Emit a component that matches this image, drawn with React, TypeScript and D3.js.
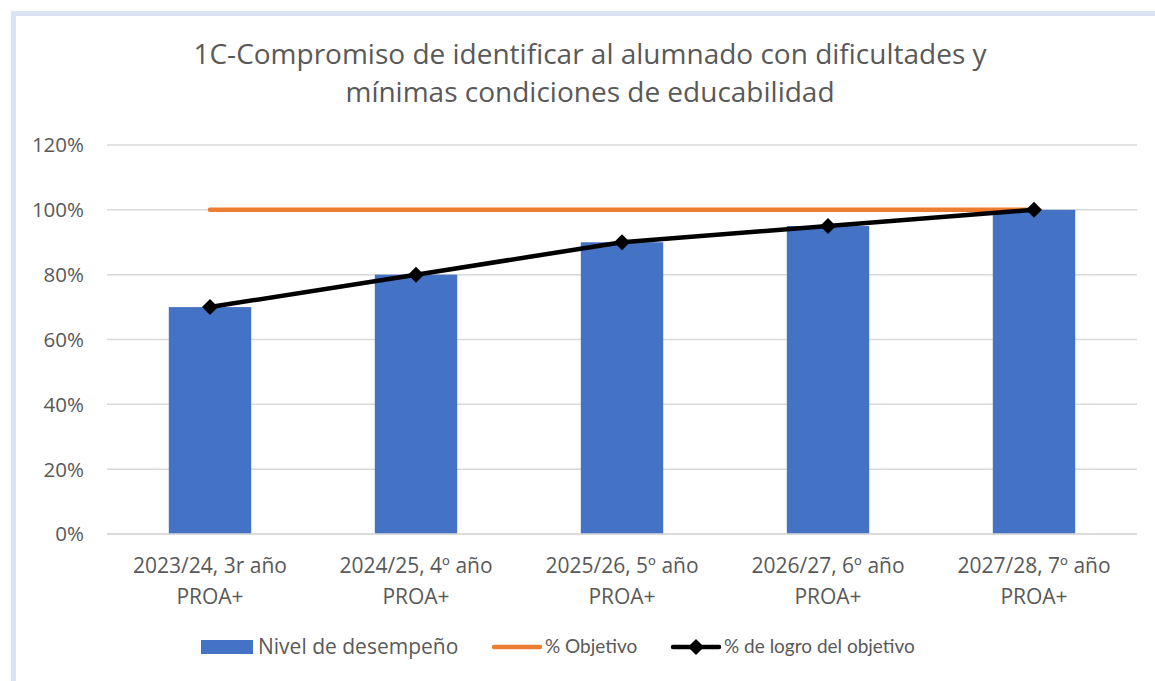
import React from "react";
import * as d3 from "d3";

const categories = [
  ["2023/24, 3r año", "PROA+"],
  ["2024/25, 4º año", "PROA+"],
  ["2025/26, 5º año", "PROA+"],
  ["2026/27, 6º año", "PROA+"],
  ["2027/28, 7º año", "PROA+"],
];
const nivel = [0.7, 0.8, 0.9, 0.95, 1.0];
const objetivo = [1.0, 1.0, 1.0, 1.0, 1.0];
const logro = [0.7, 0.8, 0.9, 0.95, 1.0];
const yTicks = [0, 0.2, 0.4, 0.6, 0.8, 1.0, 1.2];
const titleLines = [
  "1C-Compromiso de identificar al alumnado con dificultades y",
  "mínimas condiciones de educabilidad",
];
const legendLabels = ["Nivel de desempeño", "% Objetivo", "% de logro del objetivo"];

const W = 1155;
const H = 681;
const FONT = "'Open Sans', sans-serif";
const FONT2 = "Lato, sans-serif";
const TXT = "#595959";

export default function App() {
  const idx = categories.map((_, i) => String(i));
  const x = d3.scaleBand().domain(idx).range([107, 1137]).paddingInner(0).paddingOuter(0);
  const y = d3.scaleLinear().domain([0, 1.2]).range([534, 145]);
  const bw = x.bandwidth() * 0.4;
  const cx = (i: number) => (x(String(i)) as number) + x.bandwidth() / 2;
  const line = d3.line<number>().x((_, i) => cx(i)).y((d) => y(d));
  const diamond = (px: number, py: number, r: number) =>
    `M${px},${py - r}L${px + r},${py}L${px},${py + r}L${px - r},${py}Z`;

  return (
    <div style={{ position: "absolute", left: 0, top: 0 }}>
      <svg width={W} height={H} style={{ display: "block", fontFamily: FONT }}>
        <rect x={0} y={0} width={W} height={H} fill="#fff" />
        <rect x={13.5} y={13.5} width={1300} height={800} fill="none" stroke="#DAE3F3" strokeWidth={5} />
        {titleLines.map((t, i) => (
          <text key={i} x={590} y={64 + i * 38} textAnchor="middle" fontSize={28} fill={TXT}>
            {t}
          </text>
        ))}
        {yTicks.map((t) => (
          <g key={t}>
            <line x1={107} x2={1137} y1={y(t)} y2={y(t)} stroke="#D9D9D9" strokeWidth={1.5} />
            <text x={84} y={y(t)} dy="0.36em" textAnchor="end" fontSize={20.5} fill={TXT}>
              {d3.format(".0%")(t)}
            </text>
          </g>
        ))}
        {nivel.map((v, i) => (
          <rect key={i} x={cx(i) - bw / 2} y={y(v)} width={bw} height={y(0) - y(v)} fill="#4472C4" />
        ))}
        <line x1={107} x2={1137} y1={y(0)} y2={y(0)} stroke="#D9D9D9" strokeWidth={1.5} />
        <path d={line(objetivo) || ""} fill="none" stroke="#ED7D31" strokeWidth={4.5} strokeLinecap="round" />
        <path d={line(logro) || ""} fill="none" stroke="#000" strokeWidth={4.5} strokeLinejoin="round" strokeLinecap="round" />
        {logro.map((v, i) => (
          <path key={i} d={diamond(cx(i), y(v), 8)} fill="#000" />
        ))}
        {categories.map((c, i) => (
          <g key={i}>
            {c.map((l, j) => (
              <text key={j} x={cx(i)} y={573 + j * 31} textAnchor="middle" fontSize={21} fill={TXT}>
                {l}
              </text>
            ))}
          </g>
        ))}
        <g>
          <rect x={201} y={640} width={52} height={14} fill="#4472C4" />
          <text x={258} y={654} fontSize={21} fill={TXT}>{legendLabels[0]}</text>
          <line x1={494} x2={540} y1={647} y2={647} stroke="#ED7D31" strokeWidth={4.5} strokeLinecap="round" />
          <text x={545} y={653} fontSize={19} fill={TXT} style={{ fontFamily: FONT2 }}>{legendLabels[1]}</text>
          <line x1={673} x2={719} y1={647} y2={647} stroke="#000" strokeWidth={4.5} strokeLinecap="round" />
          <path d={diamond(696, 647, 8)} fill="#000" />
          <text x={724} y={653} fontSize={19} fill={TXT} style={{ fontFamily: FONT2 }}>{legendLabels[2]}</text>
        </g>
      </svg>
    </div>
  );
}
